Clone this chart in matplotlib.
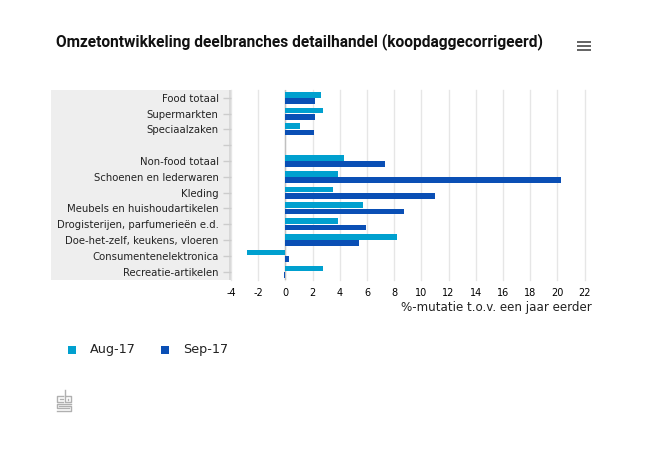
# Omzetontwikkeling deelbranches detailhandel
import matplotlib
matplotlib.use('Agg')
import matplotlib.pyplot as plt
import numpy as np
from matplotlib.lines import Line2D
from matplotlib.patches import Rectangle

categories = ['Food totaal', 'Supermarkten', 'Speciaalzaken', ' ', 'Non-food totaal',
              'Schoenen en lederwaren', 'Kleding', 'Meubels en huishoudartikelen',
              'Drogisterijen, parfumerieën e.d.', 'Doe-het-zelf, keukens, vloeren',
              'Consumentenelektronica', 'Recreatie-artikelen']
aug17 = [2.6, 2.8, 1.1, 0, 4.3, 3.9, 3.5, 5.7, 3.9, 8.2, -2.8, 2.8]
sep17 = [2.2, 2.2, 2.1, 0, 7.3, 20.3, 11.0, 8.7, 5.9, 5.4, 0.3, -0.1]
xticks = list(range(-4, 24, 2))

W, H = 650, 450
c_aug = '#00a0cf'
c_sep = '#0a4fb5'
c_txt = '#222222'

fig = plt.figure(figsize=(W/100, H/100), dpi=100, facecolor='white')


def box(x, y, w, h, color):
    # rectangle in pixels of the picture, y counted from the top
    fig.patches.append(Rectangle((x/W, 1-(y+h)/H), w/W, h/H, transform=fig.transFigure,
                                 facecolor=color, edgecolor='none', zorder=-1))


# grey band behind the category labels
box(51, 90, 178, 189.5, '#eeeeee')
box(229, 90, 2, 189.5, '#d8d8d8')

ax = fig.add_axes([231/W, 1-279.5/H, 353.5/W, 189.5/H])
ax.patch.set_alpha(0)
y = np.arange(len(categories))
ax.barh(y-0.2, aug17, height=0.36, color=c_aug, zorder=3)
ax.barh(y+0.2, sep17, height=0.36, color=c_sep, zorder=3)
ax.set_xlim(-4, 22)
ax.set_ylim(len(categories)-0.5, -0.5)
ax.set_xticks(xticks)
ax.set_xticklabels(xticks, fontsize=7, color='black')
ax.set_yticks(y)
ax.set_yticklabels(categories, fontsize=7.3, color=c_txt)
ax.tick_params(axis='x', length=0, pad=6)
ax.tick_params(axis='y', length=6, width=1, color='#cccccc', pad=3)
ax.grid(axis='x', color='#e6e6e6', lw=1, zorder=0, clip_on=False)
ax.axvline(0, color='#c0c0c0', lw=1, zorder=2)
for s in ax.spines.values():
    s.set_visible(False)

fig.text(56/W, 1-42/H, 'Omzetontwikkeling deelbranches detailhandel (koopdaggecorrigeerd)',
         fontsize=11.2, fontweight='bold', family='Roboto', color='#111111', va='center')
fig.text(592/W, 1-308/H, '%-mutatie t.o.v. een jaar eerder', fontsize=8.6, color=c_txt,
         ha='right', va='center')

# menu icon
for yy in (41, 45, 49):
    box(577, yy, 14, 2, '#666666')

# legend
box(68, 345.5, 8, 8, c_aug)
box(161, 345.5, 8, 8, c_sep)
fig.text(90/W, 1-349.5/H, 'Aug-17', fontsize=9.2, color=c_txt, va='center')
fig.text(183/W, 1-349.5/H, 'Sep-17', fontsize=9.2, color=c_txt, va='center')

# cbs logo, traced as grey strokes
logo_paths = [
    [(63, 396), (57, 396), (57, 402), (63, 402)],
    [(60, 399), (63, 399)],
    [(65, 390), (65, 402), (71, 402), (71, 396), (65, 396)],
    [(68, 399), (68, 399.5)],
    [(71, 404), (57, 404), (57, 408), (69, 408)],
    [(59, 406), (71, 406), (71, 411), (57, 411)],
]
for path in logo_paths:
    xs = [p[0]/W for p in path]
    ys = [1-p[1]/H for p in path]
    fig.add_artist(Line2D(xs, ys, color='#b0b0b0', lw=1.0, transform=fig.transFigure))

fig.savefig('out.png', dpi=100)
